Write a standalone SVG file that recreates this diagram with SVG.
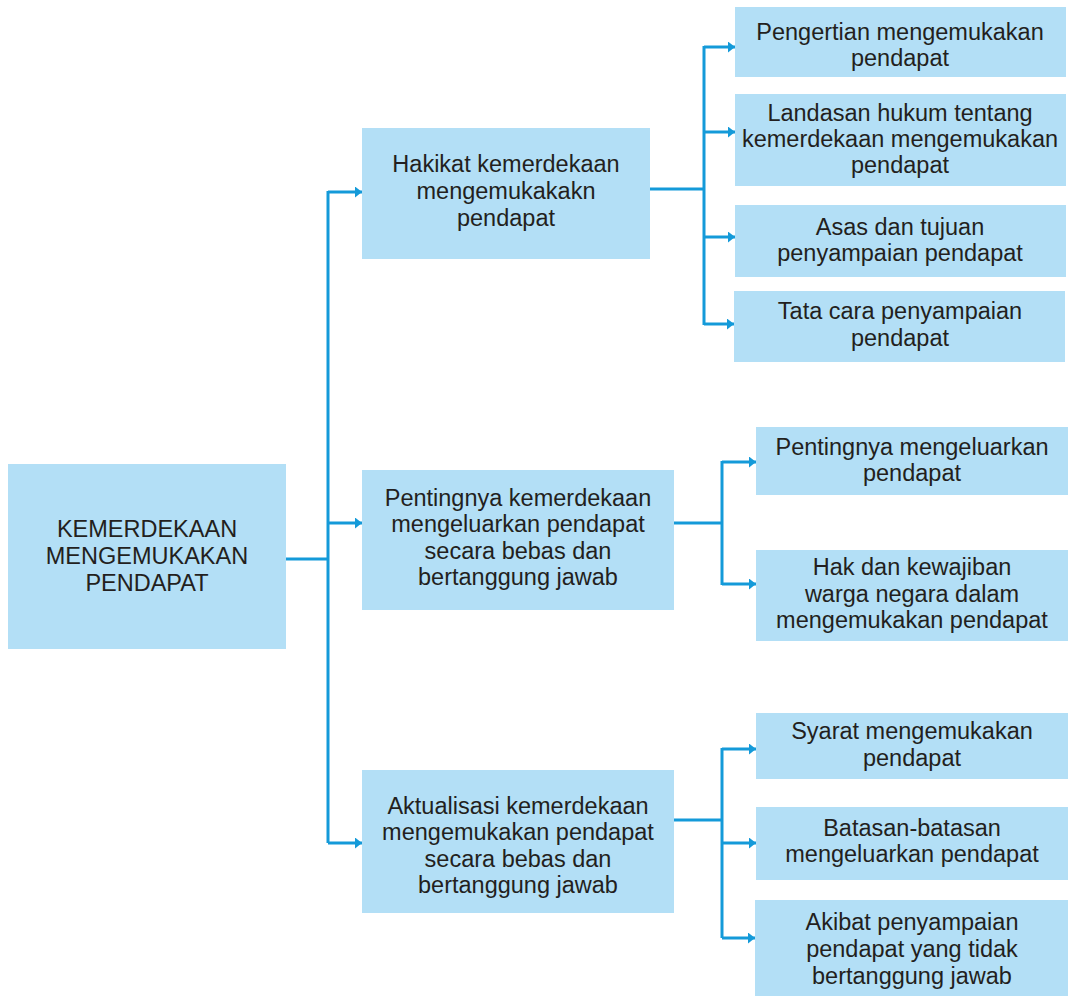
<svg xmlns="http://www.w3.org/2000/svg" width="1070" height="996" viewBox="0 0 1070 996">
<style>
.box{fill:#b3dff6;}
.t{font-family:"Liberation Sans",Arial,sans-serif;font-size:23.5px;fill:#231f20;text-anchor:middle;}
.c{stroke:#149ad9;stroke-width:3;fill:none;}
.a{stroke:#149ad9;stroke-width:3;fill:none;marker-end:url(#ah);}
</style>
<defs>
<marker id="ah" markerUnits="userSpaceOnUse" markerWidth="8" markerHeight="11" refX="7" refY="5.5" orient="auto" viewBox="0 0 8 11">
<path d="M0,0 L7,5.5 L0,11 Z" fill="#149ad9"/>
</marker>
</defs>
<rect width="1070" height="996" fill="#ffffff"/>
<g id="connectors">
<path class="c" d="M286,559 H328"/>
<path class="c" d="M328,191 V843"/>
<path class="a" d="M328,192 H362"/>
<path class="a" d="M328,523 H362"/>
<path class="a" d="M328,843 H362"/>
<path class="c" d="M650,189 H704"/>
<path class="c" d="M704,46 V325"/>
<path class="a" d="M704,47 H735"/>
<path class="a" d="M704,132 H735"/>
<path class="a" d="M704,237 H735"/>
<path class="a" d="M704,324 H734"/>
<path class="c" d="M674,523 H722"/>
<path class="c" d="M722,461 V585"/>
<path class="a" d="M722,462 H756"/>
<path class="a" d="M722,584 H756"/>
<path class="c" d="M674,820 H722"/>
<path class="c" d="M722,748 V938"/>
<path class="a" d="M722,749 H756"/>
<path class="a" d="M722,843 H756"/>
<path class="a" d="M722,938 H755"/>
</g>
<g id="root">
<rect class="box" x="8" y="464" width="278" height="185"/>
<text class="t" x="147" y="537">KEMERDEKAAN</text>
<text class="t" x="147" y="564">MENGEMUKAKAN</text>
<text class="t" x="147" y="591">PENDAPAT</text>
</g>
<g id="hakikat">
<rect class="box" x="362" y="128" width="288" height="131"/>
<text class="t" x="506" y="172">Hakikat kemerdekaan</text>
<text class="t" x="506" y="199">mengemukakakn</text>
<text class="t" x="506" y="226">pendapat</text>
</g>
<g id="pentingnya">
<rect class="box" x="362" y="470" width="312" height="140"/>
<text class="t" x="518" y="506">Pentingnya kemerdekaan</text>
<text class="t" x="518" y="532">mengeluarkan pendapat</text>
<text class="t" x="518" y="559">secara bebas dan</text>
<text class="t" x="518" y="585">bertanggung jawab</text>
</g>
<g id="aktualisasi">
<rect class="box" x="362" y="770" width="312" height="143"/>
<text class="t" x="518" y="814">Aktualisasi kemerdekaan</text>
<text class="t" x="518" y="840">mengemukakan pendapat</text>
<text class="t" x="518" y="867">secara bebas dan</text>
<text class="t" x="518" y="893">bertanggung jawab</text>
</g>
<g id="pengertian">
<rect class="box" x="735" y="7" width="331" height="70"/>
<text class="t" x="900" y="40">Pengertian mengemukakan</text>
<text class="t" x="900" y="66">pendapat</text>
</g>
<g id="landasan">
<rect class="box" x="735" y="94" width="331" height="92"/>
<text class="t" x="900" y="121">Landasan hukum tentang</text>
<text class="t" x="900" y="147">kemerdekaan mengemukakan</text>
<text class="t" x="900" y="173">pendapat</text>
</g>
<g id="asas">
<rect class="box" x="735" y="205" width="331" height="72"/>
<text class="t" x="900" y="235">Asas dan tujuan</text>
<text class="t" x="900" y="261">penyampaian pendapat</text>
</g>
<g id="tatacara">
<rect class="box" x="734" y="291" width="331" height="71"/>
<text class="t" x="900" y="319">Tata cara penyampaian</text>
<text class="t" x="900" y="346">pendapat</text>
</g>
<g id="pentingnya-mengeluarkan">
<rect class="box" x="756" y="427" width="312" height="68"/>
<text class="t" x="912" y="455">Pentingnya mengeluarkan</text>
<text class="t" x="912" y="481">pendapat</text>
</g>
<g id="hak">
<rect class="box" x="756" y="550" width="312" height="91"/>
<text class="t" x="912" y="575">Hak dan kewajiban</text>
<text class="t" x="912" y="602">warga negara dalam</text>
<text class="t" x="912" y="628">mengemukakan pendapat</text>
</g>
<g id="syarat">
<rect class="box" x="756" y="713" width="312" height="66"/>
<text class="t" x="912" y="739">Syarat mengemukakan</text>
<text class="t" x="912" y="766">pendapat</text>
</g>
<g id="batasan">
<rect class="box" x="756" y="807" width="312" height="73"/>
<text class="t" x="912" y="836">Batasan-batasan</text>
<text class="t" x="912" y="862">mengeluarkan pendapat</text>
</g>
<g id="akibat">
<rect class="box" x="755" y="900" width="313" height="96"/>
<text class="t" x="912" y="930">Akibat penyampaian</text>
<text class="t" x="912" y="957">pendapat yang tidak</text>
<text class="t" x="912" y="984">bertanggung jawab</text>
</g>
</svg>
